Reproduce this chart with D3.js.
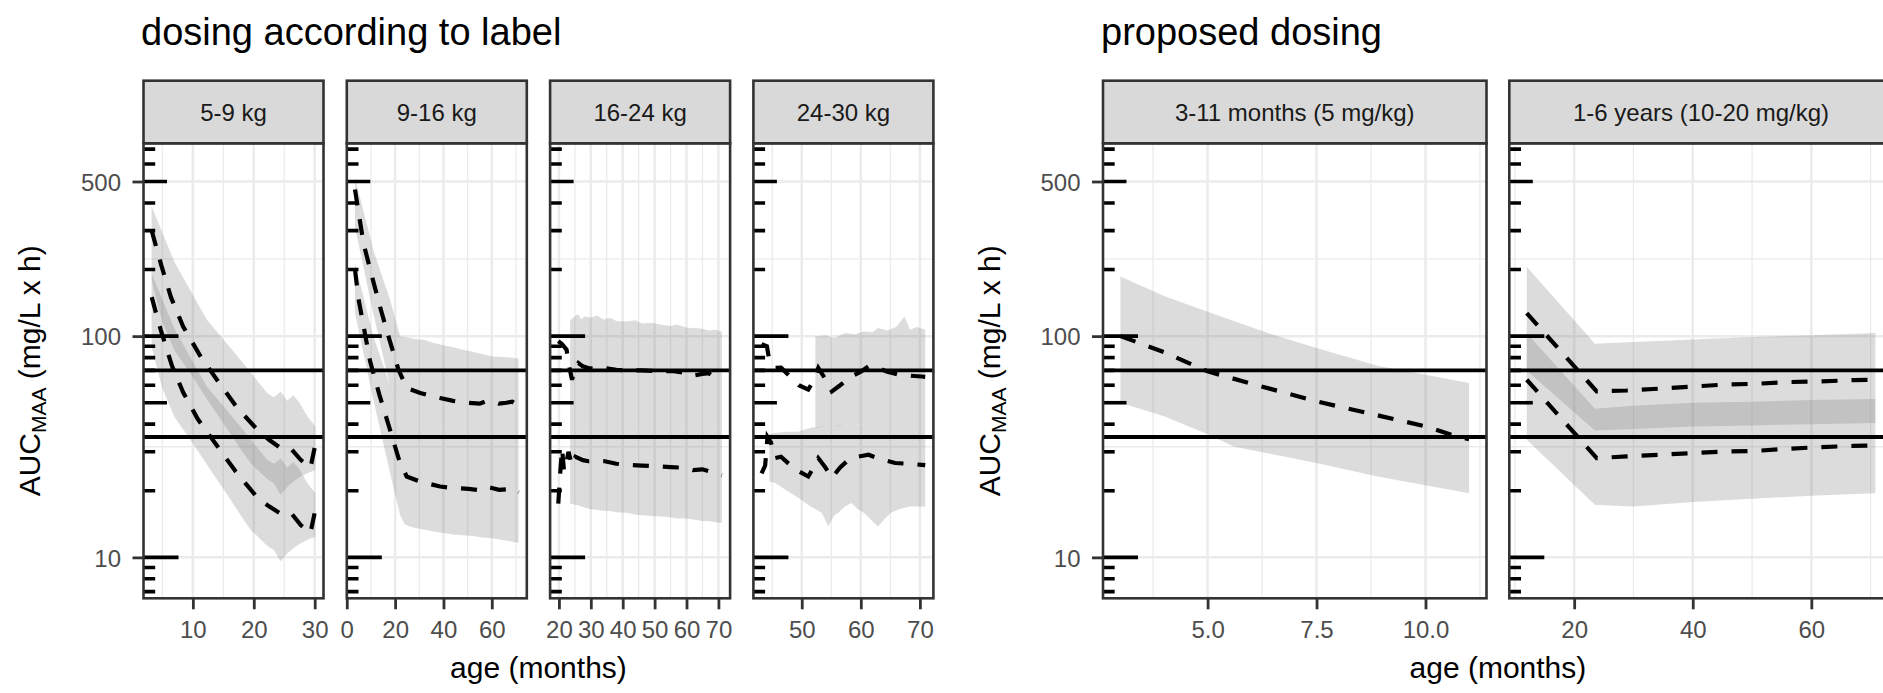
<!DOCTYPE html>
<html><head><meta charset="utf-8">
<script src="https://cdn.jsdelivr.net/npm/d3@7"></script>
<style>
body{margin:0;background:#fff;}
svg{display:block;font-family:"Liberation Sans",Arial,Helvetica,sans-serif;}
</style>
</head><body>
<svg id="chart" width="1883" height="693"></svg>
<script>
// ---------------- DATA ----------------
const plotTitles = ["dosing according to label", "proposed dosing"];
const leftPanels = ["5-9 kg", "9-16 kg", "16-24 kg", "24-30 kg"];
const rightPanels = ["3-11 months (5 mg/kg)", "1-6 years (10-20 mg/kg)"];
const xTitle = "age (months)";
const yLimits = [8.1, 600];
const yTicks = [10, 100, 500];
const yMinor = [31.62, 223.6];
const targetLines = [35, 70];

const p1Ticks = [10, 20, 30], p1Minor = [5, 15, 25];
const p2Ticks = [0, 20, 40, 60], p2Minor = [10, 30, 50, 70];
const p3Ticks = [20, 30, 40, 50, 60, 70], p3Minor = [25, 35, 45, 55, 65];
const p4Ticks = [50, 60, 70], p4Minor = [45, 55, 65];
const p5Ticks = [5, 7.5, 10], p5Minor = [3.75, 6.25, 8.75, 11.25];
const p6Ticks = [20, 40, 60], p6Minor = [10, 30, 50, 70];

// medians [age, AUC]
const p1High = [[3.24,300],[4.8,210],[6.4,150],[8.4,110.6],[11.2,81.5],[14.25,61.8],[17.3,47.3],[20.7,37.5],[22.5,34],[24.2,31.5],[26.1,31],[27.7,27.6],[29.3,25.4],[30.1,32.3]];
const p1Low = [[3.24,150],[4.8,105],[6.6,73],[8.4,55.7],[10.8,42.2],[13.7,32.7],[17,24.5],[20.6,18.6],[22.5,17],[24.2,15.9],[26.1,15.9],[27.7,14],[29.3,12.9],[30.1,16.4]];
const p2High = [[3.39,460],[6.9,263],[10.6,183],[14.1,131.6],[17.65,96.4],[21.4,70.5],[24.8,58.3],[30.4,55.3],[34,54],[38.6,52.5],[44,51],[50.4,49.9],[55,49.5],[58,51],[60,50.7],[63,49.5],[66,50],[68.5,50.5],[71.1,48.5]];
const p2Low = [[3.39,200],[4.8,148.6],[9.65,76.9],[13.5,54.3],[17.65,38.5],[21.4,28.1],[24.8,23.2],[30.4,22],[34,21.5],[38.6,20.9],[44,20.6],[50.4,20.4],[55,20.1],[58,20.8],[60,20.6],[63,20.2],[66,20.3],[68.5,20.6],[71.1,19.7]];
const p3High = [[19.8,95],[21,92],[22.4,86.8],[23.3,72],[24.1,63.5],[25.2,72],[26.1,75.5],[27.5,73],[29.2,71.8],[32,71],[34.4,71.8],[38,70.5],[41.3,70],[46,70],[52.2,69.3],[56,69.5],[59.6,68.1],[61.7,66.1],[65,67.5],[67,68],[69,64.8],[71.1,63.5]];
const p3Low = [[19.8,17.5],[20.4,24],[21,31],[21.6,24.5],[22.4,27],[23,30],[24.1,26],[25.2,28.5],[26.1,28.1],[27.5,27.5],[29.2,27.2],[31,27.3],[34.4,27.2],[38,26.5],[41.3,26.2],[46,26],[50.1,25.8],[55,25.6],[59.6,25.4],[62,24.8],[65,25],[69.5,23.9],[71.1,23.5]];
const p4High = [[43.2,92],[44.1,90],[44.5,78],[45.5,71.8],[46.5,72],[48,65.7],[49.5,60],[51.1,57.3],[52,63],[52.8,71.8],[54,64],[55.1,56.3],[56.5,60],[58.4,65.7],[60,69],[61.3,73],[62.9,71.8],[64.5,69],[66.6,66.8],[68.5,66.2],[70.3,65.7],[70.9,65.5]];
const p4Low = [[43.2,24],[43.8,26],[44.2,35],[44.8,33],[45.5,28.1],[46.5,28.5],[48,26.2],[49.5,24.5],[51.1,23.2],[52,25.5],[52.8,28.1],[54,25.5],[55.1,22.9],[56.5,25.5],[57.9,27.6],[59.5,28.5],[61.3,29.1],[63,28],[65.8,26.7],[68,26.5],[70.3,26.2],[70.9,26.1]];
const p5Median = [[3,100],[4,84.7],[5,69.3],[6,61],[7.5,50.7],[9,43.4],[10,39.1],[10.6,35.8],[11,34.2]];
const p6High = [[12,127],[23.8,56.3],[28.9,56.8],[34.4,57.9],[39.7,59.1],[45.3,60.4],[50.7,60.9],[56.2,62],[61.5,62.4],[67.1,63.3],[70.8,63.5]];
const p6Low = [[12,63.5],[23.8,28.1],[28.9,28.6],[34.4,29.1],[39.7,29.6],[45.3,30.1],[50.7,30.3],[56.2,31],[61.5,31.5],[67.1,31.9],[70.8,32]];

// prediction intervals [age, lower, upper]
const p1BandHigh = [[3.24,178,385],[5,116,293],[7,86,216],[9.6,68,161],[12.3,52,118.6],[15.1,40,96],[17.8,31,78.2],[19.5,26.6,68.4],[22.2,22.6,55.3],[23.3,21.6,53],[24.4,19.2,56],[25.5,20.8,51],[26.5,22,54],[27.5,23,50],[28.8,24,43.4],[30.1,24.8,39]];
const p1BandLow = [[3.24,89,192],[5,58,146],[7,43,108],[9.6,34,80],[12.3,26.3,59],[15.1,20.2,48],[17.8,15.6,39],[19.5,13.3,34],[22.2,11.3,27.6],[23.3,10.8,26.5],[24.4,9.6,28],[25.5,10.4,25.5],[26.5,11,27],[27.5,11.5,25],[28.8,12,21.7],[30.1,12.4,19.5]];
const p2BandHigh = [[3.39,311,520],[7,203,364],[11,126,245],[14.5,86,188],[17.9,59,146],[20,49,120.7],[22.1,40.7,99.7],[24,40.4,99],[26,40,98],[28,39.6,97],[31.7,39.3,96.4],[36,38,93],[40,37.1,91],[44,36.3,89],[48.1,35.4,86.8],[52,34.7,85],[56,33.9,83],[60.1,33.1,81],[64,32.9,80.5],[68,32.7,80],[71.1,32.2,79]];
const p2BandLow = [[3.39,127,212],[7,82.8,149],[11,51.6,100],[14.5,35,77],[17.9,24.1,59.6],[20,19.3,49],[22.1,15.5,40.7],[24,14.1,40.4],[26,13.8,40],[28,13.6,39.6],[31.7,13.35,39.3],[36,13.1,38],[40,12.9,37.1],[44,12.7,36.3],[48.1,12.6,35.4],[52,12.5,34.7],[56,12.3,33.9],[60.1,12.2,33.1],[64,12,32.9],[68,11.8,32.7],[71.1,11.6,32.2]];
const p3BandHigh = [[23.5,40,118],[25,40,122.8],[26,40,126],[27,39.5,119],[28,39.5,123],[30,39.5,121],[32,39,124],[34,39,119],[36,39,121],[38,39,117],[41.3,38.5,116.5],[44,38.5,118],[46,38.5,114],[49,38.5,115],[52.2,38,112.6],[55,38,111],[57,38,113],[60,38,109],[62.6,37.5,108.8],[65,37.5,108],[67,37.5,106],[69,37.5,107],[71.1,37.5,105]];
const p3BandLow = [[23.5,17.5,40],[25,17.3,40],[26,17.2,40],[27,17,39.5],[28,16.8,39.5],[30,16.5,39.5],[32,16.4,39],[34,16.2,39],[36,16.2,39],[38,16,39],[41.3,15.9,38.5],[44,15.6,38.5],[46,15.5,38.5],[49,15.4,38.5],[52.2,15.3,38],[55,15.2,38],[57,15,38],[60,15,38],[62.6,14.8,37.5],[65,14.6,37.5],[67,14.6,37.5],[69,14.4,37.5],[71.1,14.3,37.5]];
const p4BandHigh = [[52.3,38.5,99.7],[54,39,101],[55.5,39,98],[57.3,39.5,103.4],[59,39.5,102],[60.5,40,105],[62,40,104],[62.9,40,108.8],[64.5,40,106],[66,40,110],[67.4,40,122.8],[68.3,40,107],[69.5,40,110],[70.9,40,106.8]];
const p4BandLow = [[44.5,22,36],[45.5,21.7,36.5],[47.5,20,37],[49.4,18.6,37],[51.5,17,38.5],[53.4,15.9,39],[54.5,13.8,39],[55.5,15.5,39],[56.2,15.9,39.5],[57.3,17,39.5],[58.4,17.6,39.5],[59.5,16.5,39.5],[60.5,15.9,40],[61.7,14.8,40],[62.9,13.8,40],[64,14.9,40],[65.1,15.9,40],[66.5,16.5,40],[68.3,17,40],[70.9,17,40]];
const p5Band = [[3,50,186],[4,43.4,152],[5,36,129],[5.6,31.7,117],[6.4,29.5,103],[7.5,26.7,88.3],[8.9,23.2,73.5],[10,21.2,66.9],[11,19.5,61.4]];
const p6BandHigh = [[12,70,206],[23.5,37.5,92.5],[30,38,94],[40,39,96.5],[50,39.5,99],[60,40,101],[70.8,40.5,103.4]];
const p6BandLow = [[12,34,103],[23.5,17.3,47],[30,17,48.5],[40,17.8,50],[50,18.4,50.5],[60,19,51.5],[70.8,19.5,52]];

// ---------------- LAYOUT ----------------
const svg = d3.select("#chart");
const FONT = '"Liberation Sans",Arial,Helvetica,sans-serif';
const stripTop = 80.7, panelTop = 143.3, panelBottom = 598.3;
const leftX0 = 143.5, leftW = 180, leftGap = 23.3;
const rightX0 = 1103, rightW = 383.5, rightGap = 22.8;

function expandLog(l) {
  const a = Math.log10(l[0]), b = Math.log10(l[1]), e = (b - a) * 0.05;
  return [Math.pow(10, a - e), Math.pow(10, b + e)];
}
const y = d3.scaleLog().domain(expandLog(yLimits)).range([panelBottom, panelTop]);

const panels = [
  {label: leftPanels[0], x0: leftX0, w: leftW, ticks: p1Ticks, minor: p1Minor, fmt: d3.format("d"), bands: [p1BandHigh, p1BandLow], lines: [p1High, p1Low], yAxis: true},
  {label: leftPanels[1], x0: leftX0 + (leftW + leftGap), w: leftW, ticks: p2Ticks, minor: p2Minor, fmt: d3.format("d"), bands: [p2BandHigh, p2BandLow], lines: [p2High, p2Low]},
  {label: leftPanels[2], x0: leftX0 + 2 * (leftW + leftGap), w: leftW, ticks: p3Ticks, minor: p3Minor, fmt: d3.format("d"), bands: [p3BandHigh, p3BandLow], lines: [p3High, p3Low]},
  {label: leftPanels[3], x0: leftX0 + 3 * (leftW + leftGap), w: leftW, ticks: p4Ticks, minor: p4Minor, fmt: d3.format("d"), bands: [p4BandHigh, p4BandLow], lines: [p4High, p4Low]},
  {label: rightPanels[0], x0: rightX0, w: rightW, ticks: p5Ticks, minor: p5Minor, fmt: d3.format(".1f"), bands: [p5Band], lines: [p5Median], yAxis: true},
  {label: rightPanels[1], x0: rightX0 + rightW + rightGap, w: rightW, ticks: p6Ticks, minor: p6Minor, fmt: d3.format("d"), bands: [p6BandHigh, p6BandLow], lines: [p6High, p6Low]}
];

const logTickVals = [];
[1, 10, 100].forEach(p => { for (let m = 1; m <= 9; m++) logTickVals.push({v: m * p, m: m}); });
const yDom = y.domain();
const logTicks = logTickVals.filter(d => d.v >= yDom[0] && d.v <= yDom[1]);

panels.forEach((p, i) => {
  const ages = [];
  p.bands.forEach(b => b.forEach(d => ages.push(d[0])));
  p.lines.forEach(l => l.forEach(d => ages.push(d[0])));
  const ext = d3.extent(ages), e = (ext[1] - ext[0]) * 0.05;
  const x = d3.scaleLinear().domain([ext[0] - e, ext[1] + e]).range([p.x0, p.x0 + p.w]);

  const g = svg.append("g");
  const clipId = "clip" + i;
  svg.append("clipPath").attr("id", clipId).append("rect")
    .attr("x", p.x0).attr("y", panelTop).attr("width", p.w).attr("height", panelBottom - panelTop);
  const pg = g.append("g").attr("clip-path", `url(#${clipId})`);

  // grid minor
  pg.selectAll(".vmin").data(p.minor).enter().append("line")
    .attr("x1", d => x(d)).attr("x2", d => x(d)).attr("y1", panelTop).attr("y2", panelBottom)
    .attr("stroke", "#EBEBEB").attr("stroke-width", 1.3);
  pg.selectAll(".hmin").data(yMinor).enter().append("line")
    .attr("x1", p.x0).attr("x2", p.x0 + p.w).attr("y1", d => y(d)).attr("y2", d => y(d))
    .attr("stroke", "#EBEBEB").attr("stroke-width", 1.3);
  // grid major
  pg.selectAll(".vmaj").data(p.ticks).enter().append("line")
    .attr("x1", d => x(d)).attr("x2", d => x(d)).attr("y1", panelTop).attr("y2", panelBottom)
    .attr("stroke", "#EBEBEB").attr("stroke-width", 2.5);
  pg.selectAll(".hmaj").data(yTicks).enter().append("line")
    .attr("x1", p.x0).attr("x2", p.x0 + p.w).attr("y1", d => y(d)).attr("y2", d => y(d))
    .attr("stroke", "#EBEBEB").attr("stroke-width", 2.5);

  // ribbons
  const area = d3.area().x(d => x(d[0])).y0(d => y(d[1])).y1(d => y(d[2]));
  p.bands.forEach(b => {
    pg.append("path").attr("d", area(b)).attr("fill", "#7F7F7F").attr("fill-opacity", 0.27);
  });

  // target lines
  pg.selectAll(".tl").data(targetLines).enter().append("line")
    .attr("x1", p.x0).attr("x2", p.x0 + p.w).attr("y1", d => y(d)).attr("y2", d => y(d))
    .attr("stroke", "#000").attr("stroke-width", 3.8);

  // medians
  const line = d3.line().x(d => x(d[0])).y(d => y(d[1]));
  p.lines.forEach(l => {
    pg.append("path").attr("d", line(l)).attr("fill", "none").attr("stroke", "#000")
      .attr("stroke-width", 4.2).attr("stroke-dasharray", "16,14");
  });

  // log ticks
  pg.selectAll(".lt").data(logTicks).enter().append("line")
    .attr("x1", p.x0).attr("x2", d => p.x0 + (d.m === 1 ? 35 : d.m === 5 ? 23.5 : 11.7))
    .attr("y1", d => y(d.v)).attr("y2", d => y(d.v))
    .attr("stroke", "#000").attr("stroke-width", 3.6);

  // panel border
  g.append("rect").attr("x", p.x0).attr("y", panelTop).attr("width", p.w).attr("height", panelBottom - panelTop)
    .attr("fill", "none").attr("stroke", "#333").attr("stroke-width", 2.6);

  // strip
  g.append("rect").attr("x", p.x0).attr("y", stripTop).attr("width", p.w).attr("height", panelTop - stripTop)
    .attr("fill", "#D9D9D9").attr("stroke", "#333").attr("stroke-width", 2.6);
  g.append("text").attr("x", p.x0 + p.w / 2).attr("y", (stripTop + panelTop) / 2).attr("dy", "0.36em")
    .attr("text-anchor", "middle").attr("font-size", 24).attr("fill", "#1A1A1A").text(p.label);

  // bottom axis
  const ax = g.append("g").attr("transform", `translate(0,${panelBottom})`)
    .call(d3.axisBottom(x).tickValues(p.ticks).tickFormat(p.fmt).tickSize(11).tickPadding(12));
  ax.select(".domain").remove();
  ax.selectAll(".tick line").attr("stroke", "#333").attr("stroke-width", 2.8);
  ax.selectAll(".tick text").attr("fill", "#4D4D4D").attr("font-size", 24).attr("font-family", FONT);

  if (p.yAxis) {
    const ay = g.append("g").attr("transform", `translate(${p.x0},0)`)
      .call(d3.axisLeft(y).tickValues(yTicks).tickFormat(d3.format("d")).tickSize(11).tickPadding(11.5));
    ay.select(".domain").remove();
    ay.selectAll(".tick line").attr("stroke", "#333").attr("stroke-width", 2.8);
    ay.selectAll(".tick text").attr("fill", "#4D4D4D").attr("font-size", 24).attr("font-family", FONT).attr("dy", "0.36em");
  }
});

// titles
svg.append("text").attr("x", 141).attr("y", 44.5).attr("font-size", 38).attr("fill", "#000").text(plotTitles[0]);
svg.append("text").attr("x", 1101).attr("y", 44.5).attr("font-size", 38).attr("fill", "#000").text(plotTitles[1]);

// x axis titles
const leftCenter = (leftX0 + leftX0 + 4 * leftW + 3 * leftGap) / 2;
const rightCenter = (rightX0 + rightX0 + 2 * rightW + rightGap) / 2;
[leftCenter, rightCenter].forEach(cx => {
  svg.append("text").attr("x", cx).attr("y", 678).attr("text-anchor", "middle")
    .attr("font-size", 30).attr("fill", "#000").text(xTitle);
});

// y axis titles
const yMid = (panelTop + panelBottom) / 2;
[40, 999.5].forEach(bx => {
  const t = svg.append("text").attr("transform", `translate(${bx},${yMid}) rotate(-90)`)
    .attr("text-anchor", "middle").attr("font-size", 30).attr("fill", "#000");
  t.append("tspan").text("AUC");
  t.append("tspan").attr("font-size", 21).attr("dy", 6).text("MAA");
  t.append("tspan").attr("dy", -6).text(" (mg/L x h)");
});
</script>
</body></html>
